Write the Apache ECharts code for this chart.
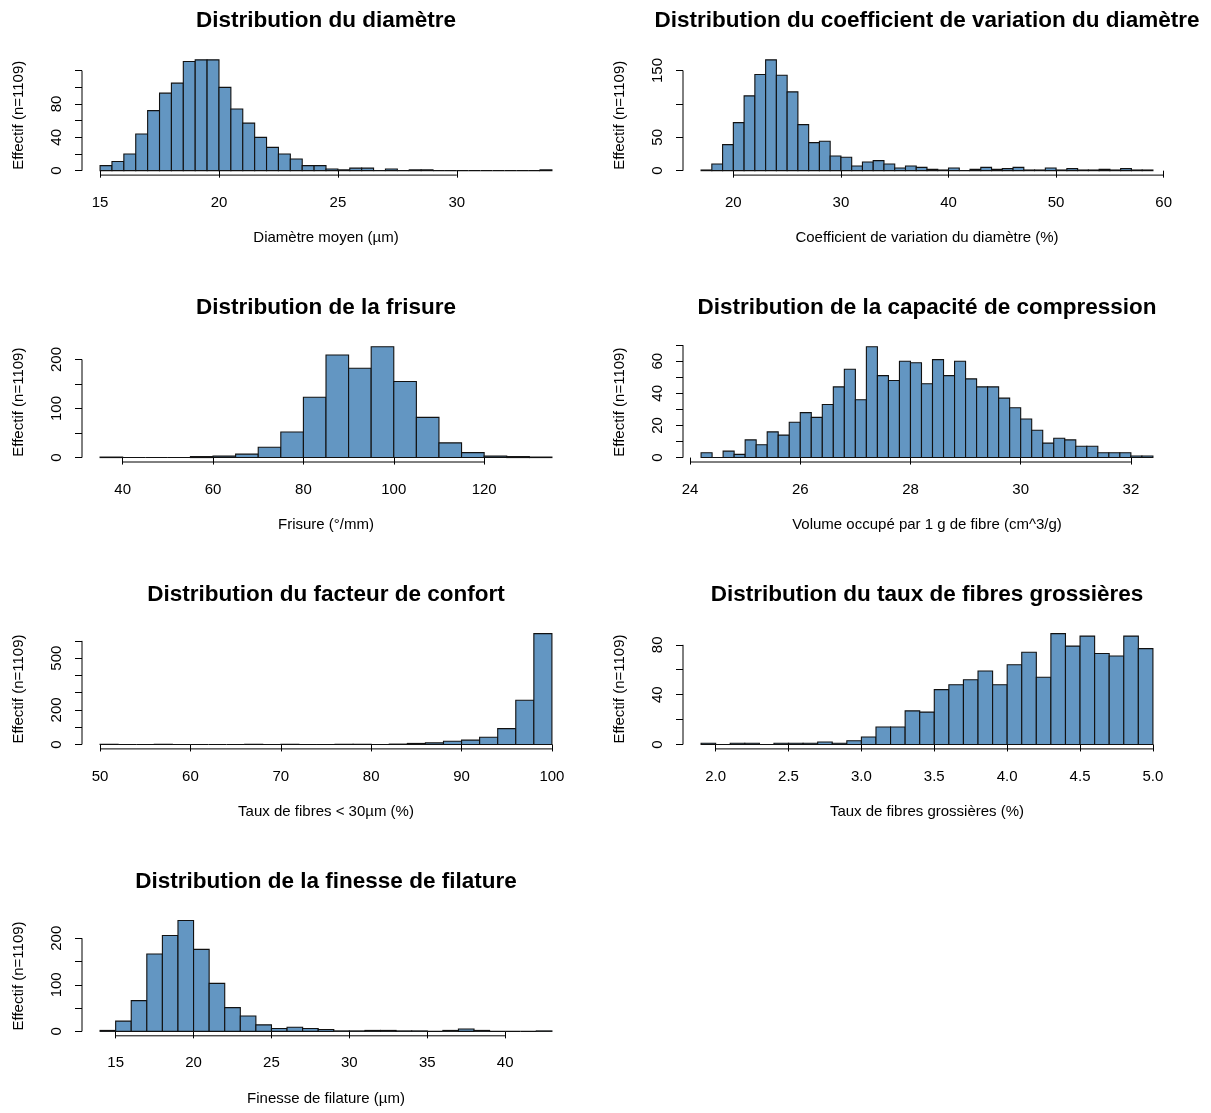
<!DOCTYPE html>
<html><head><meta charset="utf-8">
<script src="https://cdn.jsdelivr.net/npm/echarts@6/dist/echarts.min.js"></script>
<style>html,body{margin:0;padding:0;background:#fff}#c{width:1211px;height:1113px}</style>
</head><body><div id="c"></div>
<script>
// ---------- DATA ----------
const yAxisTitle = 'Effectif (n=1109)';

const diametreTitle = 'Distribution du diamètre';
const diametreXLabel = 'Diamètre moyen (µm)';
const diametreStart = 15, diametreBinWidth = 0.5;
const diametreCounts = [6,11,20,44,72,93,105,131,133,133,100,74,57,40,28,20,14,6,6,2,1,3,3,0,2,0,1,1,0,0,0,0,0,0,0,0,0,1];
const diametreXTicks = [15,20,25,30];
const diametreYTicks = [0,20,40,60,80,100,120];
const diametreYLabels = [0,40,80];

const cvTitle = 'Distribution du coefficient de variation du diamètre';
const cvXLabel = 'Coefficient de variation du diamètre (%)';
const cvStart = 17, cvBinWidth = 1;
const cvCounts = [1,10,39,72,112,144,166,143,118,69,42,44,22,20,7,13,15,10,4,7,5,2,1,4,0,2,5,2,3,5,1,1,4,1,3,1,1,2,1,3,1,1];
const cvXTicks = [20,30,40,50,60];
const cvYTicks = [0,50,100,150];
const cvYLabels = [0,50,150];

const frisureTitle = 'Distribution de la frisure';
const frisureXLabel = 'Frisure (°/mm)';
const frisureStart = 35, frisureBinWidth = 5;
const frisureCounts = [1,0,0,0,2,3,7,21,52,123,209,182,226,155,82,30,10,3,2,1];
const frisureXTicks = [40,60,80,100,120];
const frisureYTicks = [0,50,100,150,200];
const frisureYLabels = [0,100,200];

const compTitle = 'Distribution de la capacité de compression';
const compXLabel = 'Volume occupé par 1 g de fibre (cm^3/g)';
const compStart = 24.2, compBinWidth = 0.2;
const compCounts = [3,0,4,2,11,8,16,14,22,28,25,33,44,55,36,69,51,48,60,59,46,61,51,60,49,44,44,37,31,24,17,9,12,11,7,7,3,3,3,1,1];
const compXTicks = [24,26,28,30,32];
const compYTicks = [0,10,20,30,40,50,60,70];
const compYLabels = [0,20,40,60];

const confortTitle = 'Distribution du facteur de confort';
const confortXLabel = 'Taux de fibres < 30µm (%)';
const confortStart = 50, confortBinWidth = 2;
const confortCounts = [1,0,0,1,0,0,0,0,1,0,1,0,0,1,1,0,2,6,9,19,25,42,92,256,642];
const confortXTicks = [50,60,70,80,90,100];
const confortYTicks = [0,100,200,300,400,500,600];
const confortYLabels = [0,200,500];

const grossTitle = 'Distribution du taux de fibres grossières';
const grossXLabel = 'Taux de fibres grossières (%)';
const grossStart = 1.9, grossBinWidth = 0.1;
const grossCounts = [1,0,1,1,0,1,1,1,2,1,3,6,14,14,27,26,44,48,52,59,48,64,74,54,89,79,87,73,71,87,77];
const grossXTicks = [2.0,2.5,3.0,3.5,4.0,4.5,5.0];
const grossYTicks = [0,20,40,60,80];
const grossYLabels = [0,40,80];

const filTitle = 'Distribution de la finesse de filature';
const filXLabel = 'Finesse de filature (µm)';
const filStart = 14, filBinWidth = 1;
const filCounts = [2,22,66,166,206,238,176,103,51,33,14,6,9,6,4,1,1,2,2,1,1,0,2,5,2,0,0,0,1];
const filXTicks = [15,20,25,30,35,40];
const filYTicks = [0,50,100,150,200];
const filYLabels = [0,100,200];

// ---------- LAYOUT / STYLE ----------
const FONT = '"Liberation Sans", Arial, Helvetica, sans-serif';
const BAR_FILL = '#6396C2';
const BAR_STROKE = '#111111';
const LABEL_SIZE = 15;
const TITLE_SIZE = 22.5;
const colLeft = [82, 683];
const plotW = 488, plotH = 119.7;
const rowTop0 = 55.4, rowStep = 286.9;

const panels = [
  {title: diametreTitle, xName: diametreXLabel, start: diametreStart, bw: diametreBinWidth, counts: diametreCounts, xTicks: diametreXTicks, yTicks: diametreYTicks, yLabels: diametreYLabels, col: 0, row: 0},
  {title: cvTitle, xName: cvXLabel, start: cvStart, bw: cvBinWidth, counts: cvCounts, xTicks: cvXTicks, yTicks: cvYTicks, yLabels: cvYLabels, col: 1, row: 0},
  {title: frisureTitle, xName: frisureXLabel, start: frisureStart, bw: frisureBinWidth, counts: frisureCounts, xTicks: frisureXTicks, yTicks: frisureYTicks, yLabels: frisureYLabels, col: 0, row: 1},
  {title: compTitle, xName: compXLabel, start: compStart, bw: compBinWidth, counts: compCounts, xTicks: compXTicks, yTicks: compYTicks, yLabels: compYLabels, col: 1, row: 1},
  {title: confortTitle, xName: confortXLabel, start: confortStart, bw: confortBinWidth, counts: confortCounts, xTicks: confortXTicks, yTicks: confortYTicks, yLabels: confortYLabels, col: 0, row: 2},
  {title: grossTitle, xName: grossXLabel, start: grossStart, bw: grossBinWidth, counts: grossCounts, xTicks: grossXTicks, yTicks: grossYTicks, yLabels: grossYLabels, col: 1, row: 2, fmt: v => Number(v).toFixed(1)},
  {title: filTitle, xName: filXLabel, start: filStart, bw: filBinWidth, counts: filCounts, xTicks: filXTicks, yTicks: filYTicks, yLabels: filYLabels, col: 0, row: 3}
];

const r6 = v => Math.round(v * 1e6) / 1e6;

const titles = [], grids = [], xAxes = [], yAxes = [], series = [];
panels.forEach((p, i) => {
  const n = p.counts.length;
  const end = r6(p.start + n * p.bw);
  const range = end - p.start;
  const xmin = p.start - 0.04 * range, xmax = end + 0.04 * range;
  const ymaxData = Math.max.apply(null, p.counts);
  const ymin = -0.04 * ymaxData, ymax = 1.04 * ymaxData;
  const left = colLeft[p.col];
  const top = rowTop0 + p.row * rowStep;

  titles.push({
    text: p.title, left: left + plotW / 2, top: top - 46.2, textAlign: 'center', padding: 0,
    textStyle: {fontFamily: FONT, fontSize: TITLE_SIZE, fontWeight: 'bold', color: '#000'}
  });
  grids.push({left: left, top: top, width: plotW, height: plotH, containLabel: false, outerBoundsMode: 'none'});
  xAxes.push({
    type: 'value', gridIndex: i, min: xmin, max: xmax,
    axisLine: {show: false}, splitLine: {show: false},
    axisTick: {show: true, customValues: p.xTicks, length: 7, lineStyle: {color: '#000', width: 1}},
    axisLabel: {show: true, customValues: p.xTicks, margin: 20, fontFamily: FONT, fontSize: LABEL_SIZE, color: '#000',
      formatter: p.fmt ? p.fmt : (v => String(v))},
    name: p.xName, nameLocation: 'middle', nameGap: 55.5,
    nameTextStyle: {fontFamily: FONT, fontSize: LABEL_SIZE, color: '#000'}
  });
  yAxes.push({
    type: 'value', gridIndex: i, min: ymin, max: ymax,
    axisLine: {show: false}, splitLine: {show: false},
    axisTick: {show: true, customValues: p.yTicks, length: 7, lineStyle: {color: '#000', width: 1}},
    axisLabel: {show: true, customValues: p.yLabels, rotate: 90, margin: 18, fontFamily: FONT, fontSize: LABEL_SIZE, color: '#000'},
    name: yAxisTitle, nameLocation: 'middle', nameGap: 56,
    nameTextStyle: {fontFamily: FONT, fontSize: LABEL_SIZE, color: '#000'}
  });
  // histogram bars
  series.push({
    type: 'custom', xAxisIndex: i, yAxisIndex: i, silent: true, clip: false,
    data: p.counts.map((c, k) => [r6(p.start + k * p.bw), r6(p.start + (k + 1) * p.bw), c]),
    encode: {x: [0, 1], y: 2},
    renderItem: (params, api) => {
      const a = api.coord([api.value(0), api.value(2)]);
      const b = api.coord([api.value(1), 0]);
      return {
        type: 'rect',
        shape: {x: a[0], y: a[1], width: b[0] - a[0], height: b[1] - a[1]},
        style: {fill: BAR_FILL, stroke: BAR_STROKE, lineWidth: 1.1}
      };
    }
  });
  // R-style axis lines spanning first to last tick
  series.push({
    type: 'custom', xAxisIndex: i, yAxisIndex: i, silent: true, clip: false,
    data: [[p.xTicks[0], p.xTicks[p.xTicks.length - 1], p.yTicks[0], p.yTicks[p.yTicks.length - 1]]],
    encode: {x: [0, 1], y: [2, 3]},
    renderItem: (params, api) => {
      const x0 = api.coord([api.value(0), ymin]);
      const x1 = api.coord([api.value(1), ymin]);
      const y0 = api.coord([xmin, api.value(2)]);
      const y1 = api.coord([xmin, api.value(3)]);
      return {
        type: 'group',
        children: [
          {type: 'line', shape: {x1: x0[0], y1: x0[1], x2: x1[0], y2: x1[1]}, style: {stroke: '#000', lineWidth: 1}},
          {type: 'line', shape: {x1: y0[0], y1: y0[1], x2: y1[0], y2: y1[1]}, style: {stroke: '#000', lineWidth: 1}}
        ]
      };
    }
  });
});

const chart = echarts.init(document.getElementById('c'), null, {renderer: 'canvas'});
chart.setOption({
  animation: false,
  backgroundColor: '#ffffff',
  title: titles,
  grid: grids,
  xAxis: xAxes,
  yAxis: yAxes,
  series: series
});
</script>
</body></html>
